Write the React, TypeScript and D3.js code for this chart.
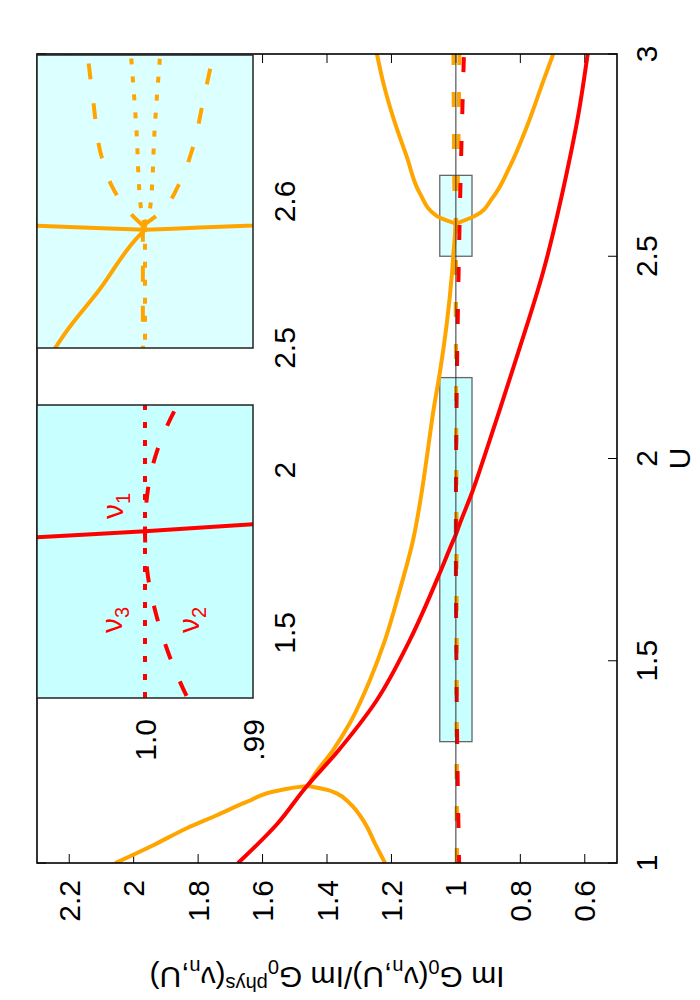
import React from 'react';
import * as d3 from 'd3';

type Pt = [number, number];

// axis ticks
const uTicks = [1, 1.5, 2, 2.5, 3];
const vTicks = [2.2, 2, 1.8, 1.6, 1.4, 1.2, 1, 0.8, 0.6];
const zoom1UTicks = [1.5, 2];
const zoom2UTicks = [2.5, 2.6];
const zoom1VTicks = [1.0, 0.99];
const zoom1VLabels = ['1.0', '.99'];

// ranges of the main plot, the two zoom insets and the marker boxes
const mainU: Pt = [1, 3];
const mainV: Pt = [0.5, 2.3];
const zoom1U: Pt = [1.3, 2.2];
const zoom2U: Pt = [2.5, 2.7];
const zoomV: Pt = [0.99, 1.01];
const boxV: Pt = [0.95, 1.05];

// red: nu_1 solid, nu_2 dashed, nu_3 dotted
const redNu1: Pt[] = [
  [1.0, 1.676], [1.099, 1.552], [1.185, 1.468], [1.274, 1.369], [1.403, 1.245],
  [1.551, 1.143], [1.717, 1.05], [1.794, 1.01], [1.812, 1.0], [1.834, 0.99],
  [1.922, 0.947], [2.004, 0.912], [2.13, 0.86], [2.251, 0.811], [2.459, 0.73],
  [2.706, 0.656], [2.85, 0.62], [3.0, 0.591],
];
const redNu2: Pt[] = [
  [1.0, 0.99], [1.303, 0.9961], [1.426, 0.9977], [1.548, 0.9989], [1.693, 0.9998],
  [1.815, 1.0], [1.947, 0.9997], [2.067, 0.9988], [2.199, 0.997], [2.4, 0.993],
  [2.6, 0.988], [2.8, 0.982], [3.0, 0.975],
];
const redNu3: Pt[] = [[1.3, 1.0], [2.2, 1.0]];

// orange solid: two branches that meet near U=1.19, run together, split again near U=2.58
const orangeUpper: Pt[] = [
  [1.0, 2.057], [1.044, 1.939], [1.086, 1.835], [1.118, 1.742], [1.151, 1.649],
  [1.18, 1.546], [1.189, 1.473], [1.19, 1.458],
];
const orangeLower: Pt[] = [
  [1.0, 1.22], [1.048, 1.251], [1.098, 1.282], [1.147, 1.329], [1.172, 1.37],
  [1.18, 1.396], [1.188, 1.442], [1.19, 1.458],
];
const orangeMerged: Pt[] = [
  [1.19, 1.458], [1.213, 1.443], [1.279, 1.381], [1.346, 1.329], [1.452, 1.267],
  [1.551, 1.22], [1.675, 1.174], [1.798, 1.133], [1.922, 1.105], [2.004, 1.09],
  [2.127, 1.068], [2.211, 1.05], [2.335, 1.028], [2.459, 1.012], [2.517, 1.0067],
  [2.538, 1.0044], [2.577, 1.0005], [2.5807, 1.0],
];
const orangeSplitHigh: Pt[] = [
  [2.5807, 1.0], [2.6, 1.06], [2.656, 1.112], [2.745, 1.152], [2.844, 1.195],
  [2.928, 1.225], [3.0, 1.245],
];
const orangeSplitLow: Pt[] = [
  [2.5807, 1.0], [2.6, 0.94], [2.646, 0.885], [2.721, 0.833], [2.82, 0.78],
  [2.928, 0.731], [3.0, 0.698],
];

// orange dashed
const orangeNu2: Pt[] = [[1.0, 0.997], [1.5, 0.998], [2.0, 0.999], [2.5, 1.0002], [2.5835, 1.0002]];
const orangeNu2High: Pt[] = [
  [2.5835, 1.0002], [2.593, 1.0015], [2.611, 1.0031], [2.63, 1.004], [2.669, 1.0048],
  [2.7, 1.0053], [2.85, 1.0065], [3.0, 1.0075],
];
const orangeNu2Low: Pt[] = [
  [2.5835, 1.0002], [2.593, 0.9985], [2.611, 0.9969], [2.636, 0.9956], [2.669, 0.9946],
  [2.7, 0.9937], [2.85, 0.991], [3.0, 0.989],
];

// orange dotted (only in the second inset)
const orangeNu3: Pt[] = [[2.5835, 1.0], [2.5, 1.0]];
const orangeNu3High: Pt[] = [[2.5835, 1.0], [2.597, 1.0004], [2.65, 1.0008], [2.7, 1.0013]];
const orangeNu3Low: Pt[] = [[2.5835, 1.0], [2.597, 0.9995], [2.65, 0.9991], [2.7, 0.9986]];

const RED = '#ff0000';
const ORANGE = '#ffa500';
const FONT = '"Liberation Sans", Arial, Helvetica, sans-serif';

// the figure is laid out landscape (1000 x 700) and turned a quarter turn counter-clockwise
const frame = { left: 137, right: 946, top: 37, bottom: 617 };
const in1 = { left: 302, right: 595, top: 37, bottom: 253 };
const in2 = { left: 652, right: 945, top: 37, bottom: 253 };

const App = () => {
  const x = d3.scaleLinear().domain(mainU).range([frame.left, frame.right]);
  const y = d3.scaleLinear().domain(mainV).range([frame.bottom, frame.top]);
  const x1 = d3.scaleLinear().domain(zoom1U).range([in1.left, in1.right]);
  const x2 = d3.scaleLinear().domain(zoom2U).range([in2.left, in2.right]);
  const yz = d3.scaleLinear().domain(zoomV).range([in1.bottom, in1.top]);

  const mk = (sx: d3.ScaleLinear<number, number>, sy: d3.ScaleLinear<number, number>, linear = false) =>
    d3
      .line<Pt>()
      .x((d) => sx(d[0]))
      .y((d) => sy(d[1]))
      .curve(linear ? d3.curveLinear : d3.curveMonotoneX);

  const main = mk(x, y);
  const z1 = mk(x1, yz);
  const z2 = mk(x2, yz);
  const z2lin = mk(x2, yz, true);

  const solid = (d: string | null, c: string, key: string) => (
    <path key={key} d={d || ''} fill="none" stroke={c} strokeWidth={4} strokeLinejoin="round" />
  );
  const dashed = (d: string | null, c: string, key: string, dash = '15,27', off = 0) => (
    <path key={key} d={d || ''} fill="none" stroke={c} strokeWidth={4} strokeDasharray={dash} strokeDashoffset={off} />
  );

  const boxes = [zoom1U, zoom2U].map((r, i) => (
    <rect
      key={'box' + i}
      x={x(r[0])}
      y={y(boxV[1])}
      width={x(r[1]) - x(r[0])}
      height={y(boxV[0]) - y(boxV[1])}
      fill={i === 0 ? '#c8ffff' : '#dcffff'}
      stroke="#666"
      strokeWidth={1.3}
    />
  ));

  const tickLen = 9;
  const ticks = [
    ...vTicks.map((v) => (
      <g key={'vt' + v}>
        <line x1={frame.left} x2={frame.left + tickLen} y1={y(v)} y2={y(v)} stroke="#000" />
        <line x1={frame.right} x2={frame.right - tickLen} y1={y(v)} y2={y(v)} stroke="#000" />
      </g>
    )),
    ...uTicks.map((u) => (
      <g key={'ut' + u}>
        <line x1={x(u)} x2={x(u)} y1={frame.bottom} y2={frame.bottom - tickLen} stroke="#000" />
        <line x1={x(u)} x2={x(u)} y1={frame.top} y2={frame.top + tickLen} stroke="#000" />
      </g>
    )),
  ];

  const sub = (t: string, key: string) => (
    <tspan key={key} fontSize={20} dy={7}>
      {t}
    </tspan>
  );

  return (
    <div style={{ position: 'absolute', left: 0, top: 0 }}>
      <svg width={700} height={1000} style={{ display: 'block' }} fontFamily={FONT}>
        <defs>
          <clipPath id="clipMain">
            <rect x={frame.left} y={frame.top} width={frame.right - frame.left} height={frame.bottom - frame.top} />
          </clipPath>
          <clipPath id="clipIn1">
            <rect x={in1.left} y={in1.top} width={in1.right - in1.left} height={in1.bottom - in1.top} />
          </clipPath>
          <clipPath id="clipIn2">
            <rect x={in2.left} y={in2.top} width={in2.right - in2.left} height={in2.bottom - in2.top} />
          </clipPath>
        </defs>
        <g transform="translate(0,1000) rotate(-90)">
          {boxes}
          {ticks}
          <g clipPath="url(#clipMain)">
            {solid(main(orangeUpper), ORANGE, 'ou')}
            {solid(main(orangeLower), ORANGE, 'ol')}
            {solid(main(orangeMerged), ORANGE, 'om')}
            {solid(main(orangeSplitHigh), ORANGE, 'oh')}
            {solid(main(orangeSplitLow), ORANGE, 'olo')}
            {dashed(main([...orangeNu2, ...orangeNu2High.slice(1)]), ORANGE, 'odh')}
            {dashed(main([...orangeNu2, ...orangeNu2Low.slice(1)]), ORANGE, 'odl')}
            {solid(main(redNu1), RED, 'r1')}
            {dashed(main(redNu2), RED, 'r2', '15,27', 7)}
            <line x1={frame.left} x2={frame.right} y1={y(1)} y2={y(1)} stroke="#333" strokeWidth={1} />
          </g>
          <rect
            x={frame.left}
            y={frame.top}
            width={frame.right - frame.left}
            height={frame.bottom - frame.top}
            fill="none"
            stroke="#000"
            strokeWidth={1.6}
          />

          {/* inset 1: red, zoom around U = 1.3 .. 2.2 */}
          <rect x={in1.left} y={in1.top} width={in1.right - in1.left} height={in1.bottom - in1.top} fill="#c8ffff" />
          <g clipPath="url(#clipIn1)">
            {dashed(z1(redNu3), RED, 'z1r3', '6,12')}
            {dashed(z1(redNu2), RED, 'z1r2', '16,24')}
            {solid(z1(redNu1), RED, 'z1r1')}
          </g>
          <rect
            x={in1.left}
            y={in1.top}
            width={in1.right - in1.left}
            height={in1.bottom - in1.top}
            fill="none"
            stroke="#222"
            strokeWidth={1.5}
          />

          {/* inset 2: orange, zoom around U = 2.5 .. 2.7 */}
          <rect x={in2.left} y={in2.top} width={in2.right - in2.left} height={in2.bottom - in2.top} fill="#dcffff" />
          <g clipPath="url(#clipIn2)">
            {solid(z2(orangeMerged), ORANGE, 'z2m')}
            {solid(z2(orangeSplitHigh), ORANGE, 'z2h')}
            {solid(z2(orangeSplitLow), ORANGE, 'z2l')}
            {dashed(z2lin([...orangeNu2].reverse()), ORANGE, 'z2d0', '16,24')}
            {dashed(z2(orangeNu2High), ORANGE, 'z2dh', '16,24')}
            {dashed(z2(orangeNu2Low), ORANGE, 'z2dl', '16,24')}
            {dashed(z2lin(orangeNu3), ORANGE, 'z2p0', '6,12')}
            {dashed(z2(orangeNu3High), ORANGE, 'z2ph', '6,12')}
            {dashed(z2(orangeNu3Low), ORANGE, 'z2pl', '6,12')}
          </g>
          <rect
            x={in2.left}
            y={in2.top}
            width={in2.right - in2.left}
            height={in2.bottom - in2.top}
            fill="none"
            stroke="#222"
            strokeWidth={1.5}
          />

          {/* labels */}
          <g fontSize={30} fill="#000">
            {vTicks.map((v) => (
              <text key={'vl' + v} x={120} y={y(v) + 10.5} textAnchor="end">
                {String(v)}
              </text>
            ))}
            {uTicks.map((u) => (
              <text key={'ul' + u} x={x(u)} y={657} textAnchor="middle">
                {String(u)}
              </text>
            ))}
            <text x={x(2)} y={690} textAnchor="middle">
              U
            </text>
            {zoom1UTicks.map((u) => (
              <text key={'z1u' + u} x={x1(u)} y={295} textAnchor="middle">
                {String(u)}
              </text>
            ))}
            {zoom2UTicks.map((u) => (
              <text key={'z2u' + u} x={x2(u)} y={295} textAnchor="middle">
                {String(u)}
              </text>
            ))}
            {zoom1VTicks.map((v, i) => (
              <text key={'z1v' + v} x={281} y={yz(v) + 10.5} textAnchor="end">
                {zoom1VLabels[i]}
              </text>
            ))}
            <text transform={`translate(33,${(frame.top + frame.bottom) / 2}) rotate(-90)`} textAnchor="middle">
              Im G{sub('0', 's1')}
              <tspan dy={-7}>(ν</tspan>
              {sub('n', 's2')}
              <tspan dy={-7}>,U)/Im G</tspan>
              {sub('0', 's3')}
              <tspan fontSize={20} dy={-17}>
                phys
              </tspan>
              <tspan dy={10}>(ν</tspan>
              {sub('n', 's4')}
              <tspan dy={-7}>,U)</tspan>
            </text>
          </g>
          <g fontSize={30} fill={RED}>
            <text x={481} y={123}>
              ν{sub('1', 'n1')}
            </text>
            <text x={367} y={122}>
              ν{sub('3', 'n3')}
            </text>
            <text x={367} y={199}>
              ν{sub('2', 'n2')}
            </text>
          </g>
        </g>
      </svg>
    </div>
  );
};

export default App;
